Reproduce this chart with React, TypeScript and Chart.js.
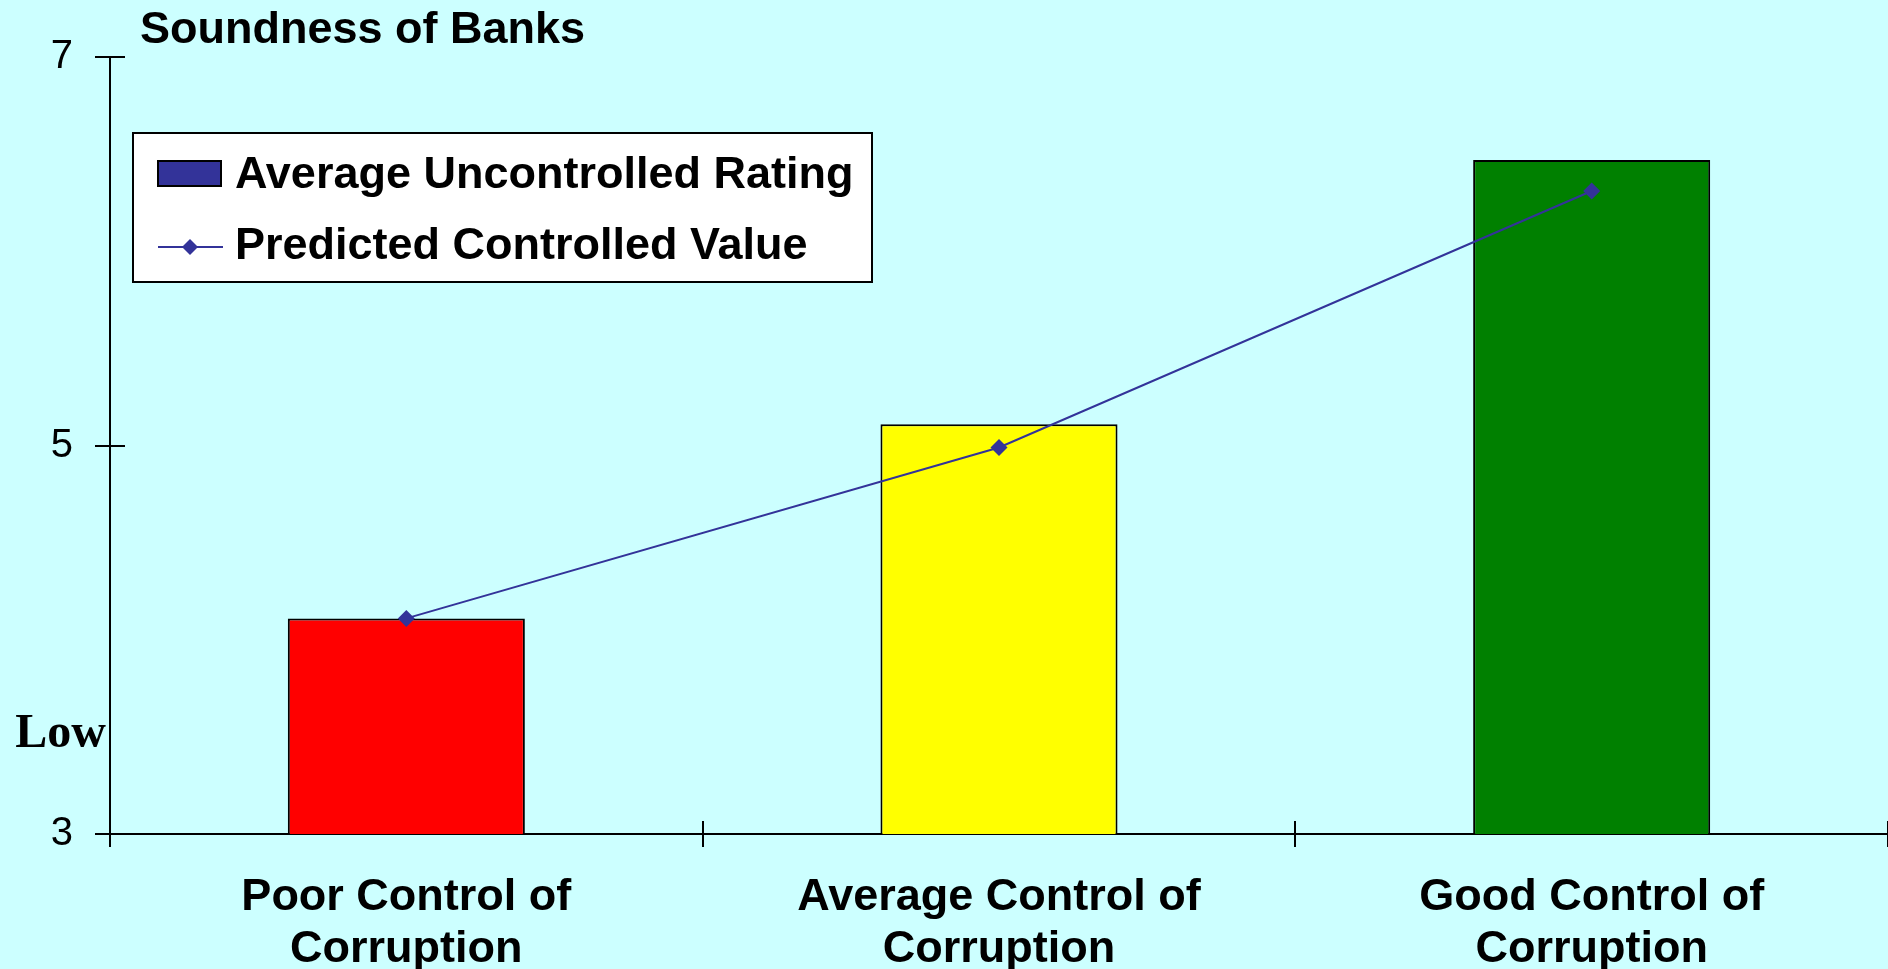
import React, { useEffect, useRef } from 'react';
import { Chart, registerables } from 'chart.js';

Chart.register(...registerables);

// ---- Data ----
const categories: string[][] = [
  ['Poor Control of', 'Corruption'],
  ['Average Control of', 'Corruption'],
  ['Good Control of', 'Corruption'],
];
const uncontrolledRating: number[] = [4.11, 5.11, 6.47];
const predictedControlled: number[] = [4.11, 4.99, 6.31];
const barColors: string[] = ['#FF0000', '#FFFF00', '#008000'];
const seriesNames: string[] = ['Average Uncontrolled Rating', 'Predicted Controlled Value'];
const yTicks: number[] = [3, 5, 7];
const chartTitle = 'Soundness of Banks';
const lowLabel = 'Low';

const SERIES_COLOR = '#333399';
const BG = '#CCFFFF';
const SANS = '"Liberation Sans", Arial, Helvetica, sans-serif';
const SERIF = '"Liberation Serif", "Times New Roman", serif';

const decorPlugin = {
  id: 'decor',
  afterDraw(chart: any) {
    const ctx: CanvasRenderingContext2D = chart.ctx;
    const area = chart.chartArea;
    const xs = chart.scales.x;
    const ys = chart.scales.y;
    ctx.save();
    ctx.strokeStyle = '#000';
    ctx.lineWidth = 2;
    // inner halves of the crossing tick marks
    yTicks.forEach((v) => {
      const py = Math.round(ys.getPixelForValue(v));
      ctx.beginPath();
      ctx.moveTo(area.left, py);
      ctx.lineTo(area.left + 15, py);
      ctx.stroke();
    });
    for (let i = 0; i <= categories.length; i++) {
      const px = Math.round(xs.getPixelForValue(i - 0.5));
      ctx.beginPath();
      ctx.moveTo(px, area.bottom - 13);
      ctx.lineTo(px, area.bottom);
      ctx.stroke();
    }

    // title
    ctx.fillStyle = '#000';
    ctx.textAlign = 'left';
    ctx.textBaseline = 'alphabetic';
    ctx.font = `bold 45px ${SANS}`;
    ctx.fillText(chartTitle, area.left + 30, 43);

    // "Low" annotation
    ctx.font = `bold 48px ${SERIF}`;
    ctx.textAlign = 'right';
    ctx.fillText(lowLabel, area.left - 4, 747);

    // legend
    const lx = area.left + 23;
    const ly = 133;
    const lw = 739;
    const lh = 149;
    ctx.fillStyle = '#FFFFFF';
    ctx.fillRect(lx, ly, lw, lh);
    ctx.strokeStyle = '#000';
    ctx.lineWidth = 2;
    ctx.strokeRect(lx, ly, lw, lh);

    const ds = chart.data.datasets;
    const barDs = ds.find((d: any) => d.type === 'bar');
    const lineDs = ds.find((d: any) => d.type === 'line');
    // row 1: bar swatch
    ctx.fillStyle = SERIES_COLOR;
    ctx.fillRect(lx + 25, ly + 28, 63, 25);
    ctx.lineWidth = 2;
    ctx.strokeRect(lx + 25, ly + 28, 63, 25);
    ctx.fillStyle = '#000';
    ctx.textAlign = 'left';
    ctx.font = `bold 45px ${SANS}`;
    ctx.fillText(barDs.label, lx + 102, ly + 55);

    // row 2: line + diamond
    const my = ly + 114;
    ctx.strokeStyle = SERIES_COLOR;
    ctx.lineWidth = 2;
    ctx.beginPath();
    ctx.moveTo(lx + 25, my);
    ctx.lineTo(lx + 90, my);
    ctx.stroke();
    const cx = lx + 57;
    const r = 8;
    ctx.fillStyle = SERIES_COLOR;
    ctx.beginPath();
    ctx.moveTo(cx - r, my);
    ctx.lineTo(cx, my - r);
    ctx.lineTo(cx + r, my);
    ctx.lineTo(cx, my + r);
    ctx.closePath();
    ctx.fill();
    ctx.fillStyle = '#000';
    ctx.fillText(lineDs.label, lx + 102, ly + 126);

    ctx.restore();
  },
};

export default function App() {
  const canvasRef = useRef<HTMLCanvasElement | null>(null);

  useEffect(() => {
    const canvas = canvasRef.current;
    if (!canvas) return;
    Chart.defaults.font.family = SANS;
    const chart = new Chart(canvas, {
      type: 'bar',
      data: {
        labels: categories,
        datasets: [
          {
            type: 'line',
            label: seriesNames[1],
            data: predictedControlled,
            borderColor: SERIES_COLOR,
            backgroundColor: SERIES_COLOR,
            borderWidth: 2,
            pointStyle: 'rectRot',
            pointRadius: 8.5,
            pointBackgroundColor: SERIES_COLOR,
            pointBorderWidth: 0,
            tension: 0,
            fill: false,
            order: 0,
          } as any,
          {
            type: 'bar',
            label: seriesNames[0],
            data: uncontrolledRating,
            backgroundColor: barColors,
            borderColor: '#000000',
            borderWidth: 2,
            barPercentage: 0.4,
            categoryPercentage: 1.0,
            order: 1,
          } as any,
        ],
      },
      options: {
        responsive: false,
        animation: false,
        devicePixelRatio: 1,
        layout: { autoPadding: false, padding: { top: 57, left: 0, right: 0, bottom: 0 } },
        plugins: {
          legend: { display: false },
          title: { display: false },
          tooltip: { enabled: false },
        },
        scales: {
          x: {
            type: 'category',
            offset: true,
            grid: {
              offset: true,
              drawOnChartArea: false,
              color: '#000',
              lineWidth: 2,
              tickLength: 13,
            },
            border: { color: '#000', width: 2 },
            ticks: {
              color: '#000',
              font: { family: SANS, size: 45, weight: 'bold', lineHeight: 1.16 },
              padding: 24,
              maxRotation: 0,
              autoSkip: false,
            },
            afterFit: (s: any) => {
              s.height = 135;
            },
          },
          y: {
            type: 'linear',
            min: 3,
            max: 7,
            grid: {
              drawOnChartArea: false,
              color: '#000',
              lineWidth: 2,
              tickLength: 15,
            },
            border: { color: '#000', width: 2 },
            ticks: {
              color: '#000',
              font: { family: SANS, size: 40, weight: 'normal' },
              padding: 22,
            },
            afterBuildTicks: (s: any) => {
              s.ticks = yTicks.map((v) => ({ value: v }));
            },
            afterFit: (s: any) => {
              s.width = 110;
            },
          },
        },
      } as any,
      plugins: [decorPlugin],
    });
    return () => chart.destroy();
  }, []);

  return (
    <div
      style={{
        position: 'fixed',
        left: 0,
        top: 0,
        width: 1888,
        height: 969,
        background: BG,
        overflow: 'hidden',
      }}
    >
      <canvas ref={canvasRef} width={1888} height={969} style={{ display: 'block' }} />
    </div>
  );
}
